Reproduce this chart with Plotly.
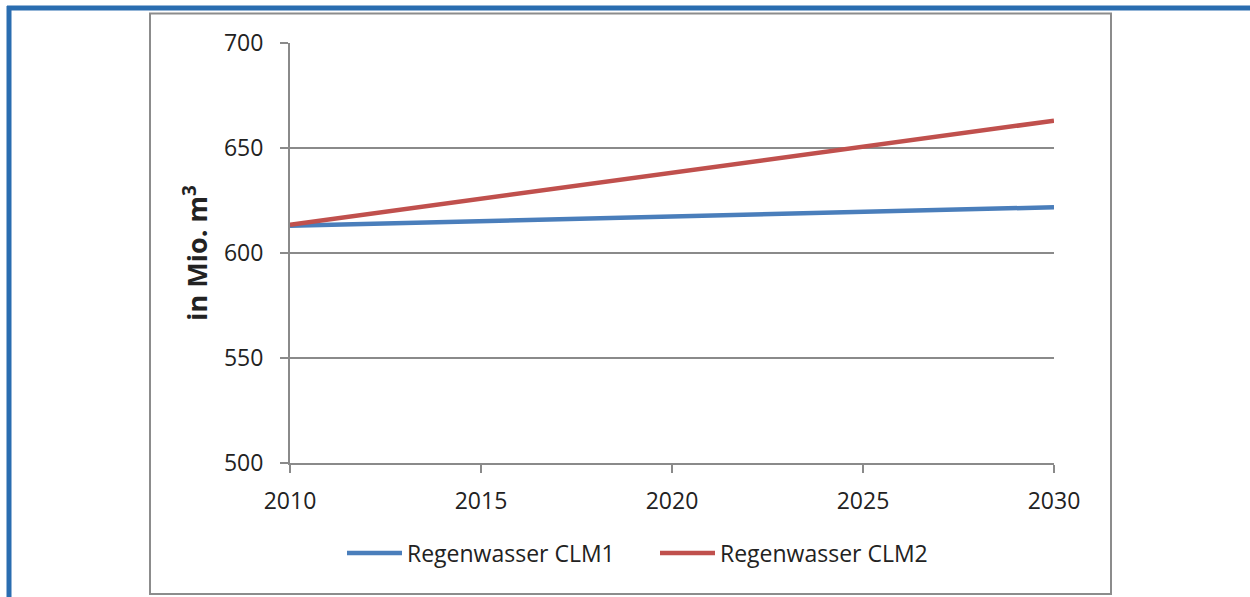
import plotly.graph_objects as go

years = [2010, 2015, 2020, 2025, 2030]
clm1 = [613.0, 615.2, 617.6, 619.7, 621.8]
clm2 = [613.5, 625.9, 638.3, 650.7, 663.0]
series_names = ["Regenwasser CLM1", "Regenwasser CLM2"]
y_title = "in Mio. m<sup>3</sup>"

W, H = 1250, 597
L, R, T, B = 290, 1054, 43, 463


def px_x(p):
    return (p - L) / (R - L)


def px_y(q):
    return (B - q) / (B - T)


fig = go.Figure()
fig.add_trace(go.Scatter(x=years, y=clm1, mode="lines", name=series_names[0],
                         line=dict(color="#4a7ebb", width=4.5)))
fig.add_trace(go.Scatter(x=years, y=clm2, mode="lines", name=series_names[1],
                         line=dict(color="#c0504d", width=4.5)))

font = "Open Sans, Lato, sans-serif"
axis_col = "#8a8a8a"

fig.update_layout(
    width=W, height=H,
    margin=dict(l=L, r=W - R, t=T, b=H - B),
    plot_bgcolor="white", paper_bgcolor="white",
    font=dict(family=font, size=23, color="#222222"),
    showlegend=True,
    legend=dict(orientation="h", x=px_x(655), xanchor="center", y=px_y(553), yanchor="middle",
                font=dict(size=23), itemwidth=55, entrywidth=243, tracegroupgap=0),
    xaxis=dict(range=[2010, 2030], tickvals=years, showgrid=False, zeroline=False,
               showline=True, linecolor=axis_col, linewidth=2,
               ticks="outside", ticklen=8, tickcolor=axis_col, tickwidth=2,
               ticklabelstandoff=8),
    yaxis=dict(range=[500, 700], dtick=50, showgrid=True, gridcolor=axis_col, gridwidth=1.5,
               zeroline=False, showline=True, linecolor=axis_col, linewidth=2,
               ticks="outside", ticklen=8, tickcolor=axis_col, tickwidth=2,
               ticklabelstandoff=12,
               title=dict(text=y_title, font=dict(size=27, family=font, weight="bold"), standoff=8)),
    shapes=[
        # outer chart frame
        dict(type="rect", xref="paper", yref="paper",
             x0=px_x(150), x1=px_x(1111), y0=px_y(13.5), y1=px_y(594),
             line=dict(color="#8c8c8c", width=2), layer="below"),
        # blue page border
        dict(type="line", xref="paper", yref="paper",
             x0=px_x(7), x1=px_x(1260), y0=px_y(8), y1=px_y(8),
             line=dict(color="#2a6db0", width=5)),
        dict(type="line", xref="paper", yref="paper",
             x0=px_x(9), x1=px_x(9), y0=px_y(6), y1=px_y(610),
             line=dict(color="#2a6db0", width=5)),
    ],
)

fig.write_html("out.html", config={"displayModeBar": False},
               post_script="document.body.style.margin='0';")
